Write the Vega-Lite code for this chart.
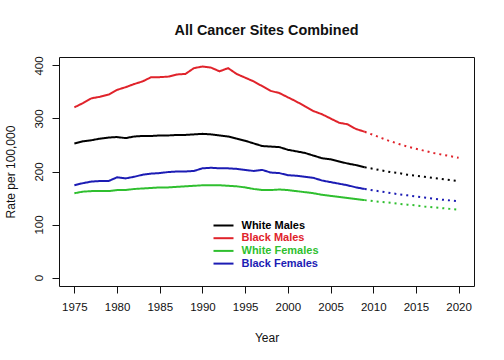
{
  "$schema": "https://vega.github.io/schema/vega-lite/v6.json",
  "width": 415,
  "height": 229,
  "autosize": {"type": "none"},
  "padding": {"left": 59, "top": 57, "right": 30, "bottom": 74},
  "background": "white",
  "config": {
    "font": "Liberation Sans",
    "view": {"stroke": "#111111", "strokeWidth": 1},
    "axis": {"grid": false, "domain": false, "tickColor": "#111111", "tickSize": 7, "labelColor": "#111111", "titleColor": "#111111", "labelFontSize": 11.5, "titleFontSize": 12, "titleFontWeight": "normal", "labelFont": "Liberation Sans", "titleFont": "Liberation Sans"}
  },
  "title": {"text": "All Cancer Sites Combined", "fontSize": 14.4, "fontWeight": "bold", "font": "Liberation Sans", "anchor": "middle", "baseline": "alphabetic", "offset": 6, "color": "#111111"},
  "data": {"values": [
    {"year":1975,"value":253,"group":"White Males","type":"obs"},
    {"year":1976,"value":257,"group":"White Males","type":"obs"},
    {"year":1977,"value":259,"group":"White Males","type":"obs"},
    {"year":1978,"value":262,"group":"White Males","type":"obs"},
    {"year":1979,"value":264,"group":"White Males","type":"obs"},
    {"year":1980,"value":265,"group":"White Males","type":"obs"},
    {"year":1981,"value":263,"group":"White Males","type":"obs"},
    {"year":1982,"value":266,"group":"White Males","type":"obs"},
    {"year":1983,"value":267,"group":"White Males","type":"obs"},
    {"year":1984,"value":267,"group":"White Males","type":"obs"},
    {"year":1985,"value":268,"group":"White Males","type":"obs"},
    {"year":1986,"value":268,"group":"White Males","type":"obs"},
    {"year":1987,"value":269,"group":"White Males","type":"obs"},
    {"year":1988,"value":269,"group":"White Males","type":"obs"},
    {"year":1989,"value":270,"group":"White Males","type":"obs"},
    {"year":1990,"value":271,"group":"White Males","type":"obs"},
    {"year":1991,"value":270,"group":"White Males","type":"obs"},
    {"year":1992,"value":268,"group":"White Males","type":"obs"},
    {"year":1993,"value":266,"group":"White Males","type":"obs"},
    {"year":1994,"value":262,"group":"White Males","type":"obs"},
    {"year":1995,"value":258,"group":"White Males","type":"obs"},
    {"year":1996,"value":253,"group":"White Males","type":"obs"},
    {"year":1997,"value":248,"group":"White Males","type":"obs"},
    {"year":1998,"value":247,"group":"White Males","type":"obs"},
    {"year":1999,"value":246,"group":"White Males","type":"obs"},
    {"year":2000,"value":241,"group":"White Males","type":"obs"},
    {"year":2001,"value":238,"group":"White Males","type":"obs"},
    {"year":2002,"value":235,"group":"White Males","type":"obs"},
    {"year":2003,"value":230,"group":"White Males","type":"obs"},
    {"year":2004,"value":225,"group":"White Males","type":"obs"},
    {"year":2005,"value":223,"group":"White Males","type":"obs"},
    {"year":2006,"value":219,"group":"White Males","type":"obs"},
    {"year":2007,"value":215,"group":"White Males","type":"obs"},
    {"year":2008,"value":212,"group":"White Males","type":"obs"},
    {"year":2009,"value":208,"group":"White Males","type":"obs"},
    {"year":2009,"value":208,"group":"White Males","type":"proj"},
    {"year":2010,"value":205,"group":"White Males","type":"proj"},
    {"year":2011,"value":202,"group":"White Males","type":"proj"},
    {"year":2012,"value":199,"group":"White Males","type":"proj"},
    {"year":2013,"value":197,"group":"White Males","type":"proj"},
    {"year":2014,"value":194,"group":"White Males","type":"proj"},
    {"year":2015,"value":192,"group":"White Males","type":"proj"},
    {"year":2016,"value":190,"group":"White Males","type":"proj"},
    {"year":2017,"value":188,"group":"White Males","type":"proj"},
    {"year":2018,"value":186,"group":"White Males","type":"proj"},
    {"year":2019,"value":184,"group":"White Males","type":"proj"},
    {"year":2020,"value":182,"group":"White Males","type":"proj"},
    {"year":1975,"value":321,"group":"Black Males","type":"obs"},
    {"year":1976,"value":329,"group":"Black Males","type":"obs"},
    {"year":1977,"value":338,"group":"Black Males","type":"obs"},
    {"year":1978,"value":341,"group":"Black Males","type":"obs"},
    {"year":1979,"value":345,"group":"Black Males","type":"obs"},
    {"year":1980,"value":354,"group":"Black Males","type":"obs"},
    {"year":1981,"value":359,"group":"Black Males","type":"obs"},
    {"year":1982,"value":365,"group":"Black Males","type":"obs"},
    {"year":1983,"value":370,"group":"Black Males","type":"obs"},
    {"year":1984,"value":378,"group":"Black Males","type":"obs"},
    {"year":1985,"value":378,"group":"Black Males","type":"obs"},
    {"year":1986,"value":379,"group":"Black Males","type":"obs"},
    {"year":1987,"value":383,"group":"Black Males","type":"obs"},
    {"year":1988,"value":384,"group":"Black Males","type":"obs"},
    {"year":1989,"value":395,"group":"Black Males","type":"obs"},
    {"year":1990,"value":398,"group":"Black Males","type":"obs"},
    {"year":1991,"value":396,"group":"Black Males","type":"obs"},
    {"year":1992,"value":389,"group":"Black Males","type":"obs"},
    {"year":1993,"value":395,"group":"Black Males","type":"obs"},
    {"year":1994,"value":384,"group":"Black Males","type":"obs"},
    {"year":1995,"value":377,"group":"Black Males","type":"obs"},
    {"year":1996,"value":370,"group":"Black Males","type":"obs"},
    {"year":1997,"value":361,"group":"Black Males","type":"obs"},
    {"year":1998,"value":352,"group":"Black Males","type":"obs"},
    {"year":1999,"value":348,"group":"Black Males","type":"obs"},
    {"year":2000,"value":340,"group":"Black Males","type":"obs"},
    {"year":2001,"value":332,"group":"Black Males","type":"obs"},
    {"year":2002,"value":323,"group":"Black Males","type":"obs"},
    {"year":2003,"value":314,"group":"Black Males","type":"obs"},
    {"year":2004,"value":308,"group":"Black Males","type":"obs"},
    {"year":2005,"value":300,"group":"Black Males","type":"obs"},
    {"year":2006,"value":292,"group":"Black Males","type":"obs"},
    {"year":2007,"value":289,"group":"Black Males","type":"obs"},
    {"year":2008,"value":280,"group":"Black Males","type":"obs"},
    {"year":2009,"value":275,"group":"Black Males","type":"obs"},
    {"year":2009,"value":275,"group":"Black Males","type":"proj"},
    {"year":2010,"value":269,"group":"Black Males","type":"proj"},
    {"year":2011,"value":263,"group":"Black Males","type":"proj"},
    {"year":2012,"value":257,"group":"Black Males","type":"proj"},
    {"year":2013,"value":252,"group":"Black Males","type":"proj"},
    {"year":2014,"value":247,"group":"Black Males","type":"proj"},
    {"year":2015,"value":243,"group":"Black Males","type":"proj"},
    {"year":2016,"value":239,"group":"Black Males","type":"proj"},
    {"year":2017,"value":235,"group":"Black Males","type":"proj"},
    {"year":2018,"value":232,"group":"Black Males","type":"proj"},
    {"year":2019,"value":229,"group":"Black Males","type":"proj"},
    {"year":2020,"value":226,"group":"Black Males","type":"proj"},
    {"year":1975,"value":159,"group":"White Females","type":"obs"},
    {"year":1976,"value":162,"group":"White Females","type":"obs"},
    {"year":1977,"value":163,"group":"White Females","type":"obs"},
    {"year":1978,"value":163,"group":"White Females","type":"obs"},
    {"year":1979,"value":163,"group":"White Females","type":"obs"},
    {"year":1980,"value":165,"group":"White Females","type":"obs"},
    {"year":1981,"value":165,"group":"White Females","type":"obs"},
    {"year":1982,"value":167,"group":"White Females","type":"obs"},
    {"year":1983,"value":168,"group":"White Females","type":"obs"},
    {"year":1984,"value":169,"group":"White Females","type":"obs"},
    {"year":1985,"value":170,"group":"White Females","type":"obs"},
    {"year":1986,"value":170,"group":"White Females","type":"obs"},
    {"year":1987,"value":171,"group":"White Females","type":"obs"},
    {"year":1988,"value":172,"group":"White Females","type":"obs"},
    {"year":1989,"value":173,"group":"White Females","type":"obs"},
    {"year":1990,"value":174,"group":"White Females","type":"obs"},
    {"year":1991,"value":174,"group":"White Females","type":"obs"},
    {"year":1992,"value":174,"group":"White Females","type":"obs"},
    {"year":1993,"value":173,"group":"White Females","type":"obs"},
    {"year":1994,"value":172,"group":"White Females","type":"obs"},
    {"year":1995,"value":170,"group":"White Females","type":"obs"},
    {"year":1996,"value":167,"group":"White Females","type":"obs"},
    {"year":1997,"value":165,"group":"White Females","type":"obs"},
    {"year":1998,"value":165,"group":"White Females","type":"obs"},
    {"year":1999,"value":166,"group":"White Females","type":"obs"},
    {"year":2000,"value":165,"group":"White Females","type":"obs"},
    {"year":2001,"value":163,"group":"White Females","type":"obs"},
    {"year":2002,"value":161,"group":"White Females","type":"obs"},
    {"year":2003,"value":159,"group":"White Females","type":"obs"},
    {"year":2004,"value":156,"group":"White Females","type":"obs"},
    {"year":2005,"value":154,"group":"White Females","type":"obs"},
    {"year":2006,"value":152,"group":"White Females","type":"obs"},
    {"year":2007,"value":150,"group":"White Females","type":"obs"},
    {"year":2008,"value":148,"group":"White Females","type":"obs"},
    {"year":2009,"value":146,"group":"White Females","type":"obs"},
    {"year":2009,"value":146,"group":"White Females","type":"proj"},
    {"year":2010,"value":144,"group":"White Females","type":"proj"},
    {"year":2011,"value":142.5,"group":"White Females","type":"proj"},
    {"year":2012,"value":141,"group":"White Females","type":"proj"},
    {"year":2013,"value":139,"group":"White Females","type":"proj"},
    {"year":2014,"value":137.5,"group":"White Females","type":"proj"},
    {"year":2015,"value":136,"group":"White Females","type":"proj"},
    {"year":2016,"value":134,"group":"White Females","type":"proj"},
    {"year":2017,"value":132.5,"group":"White Females","type":"proj"},
    {"year":2018,"value":131,"group":"White Females","type":"proj"},
    {"year":2019,"value":129.5,"group":"White Females","type":"proj"},
    {"year":2020,"value":128,"group":"White Females","type":"proj"},
    {"year":1975,"value":174,"group":"Black Females","type":"obs"},
    {"year":1976,"value":178,"group":"Black Females","type":"obs"},
    {"year":1977,"value":181,"group":"Black Females","type":"obs"},
    {"year":1978,"value":182,"group":"Black Females","type":"obs"},
    {"year":1979,"value":182,"group":"Black Females","type":"obs"},
    {"year":1980,"value":189,"group":"Black Females","type":"obs"},
    {"year":1981,"value":187,"group":"Black Females","type":"obs"},
    {"year":1982,"value":190,"group":"Black Females","type":"obs"},
    {"year":1983,"value":194,"group":"Black Females","type":"obs"},
    {"year":1984,"value":196,"group":"Black Females","type":"obs"},
    {"year":1985,"value":197,"group":"Black Females","type":"obs"},
    {"year":1986,"value":199,"group":"Black Females","type":"obs"},
    {"year":1987,"value":200,"group":"Black Females","type":"obs"},
    {"year":1988,"value":200,"group":"Black Females","type":"obs"},
    {"year":1989,"value":201,"group":"Black Females","type":"obs"},
    {"year":1990,"value":206,"group":"Black Females","type":"obs"},
    {"year":1991,"value":207,"group":"Black Females","type":"obs"},
    {"year":1992,"value":206,"group":"Black Females","type":"obs"},
    {"year":1993,"value":206,"group":"Black Females","type":"obs"},
    {"year":1994,"value":205,"group":"Black Females","type":"obs"},
    {"year":1995,"value":203,"group":"Black Females","type":"obs"},
    {"year":1996,"value":201,"group":"Black Females","type":"obs"},
    {"year":1997,"value":203,"group":"Black Females","type":"obs"},
    {"year":1998,"value":198,"group":"Black Females","type":"obs"},
    {"year":1999,"value":197,"group":"Black Females","type":"obs"},
    {"year":2000,"value":193,"group":"Black Females","type":"obs"},
    {"year":2001,"value":192,"group":"Black Females","type":"obs"},
    {"year":2002,"value":190,"group":"Black Females","type":"obs"},
    {"year":2003,"value":188,"group":"Black Females","type":"obs"},
    {"year":2004,"value":183,"group":"Black Females","type":"obs"},
    {"year":2005,"value":180,"group":"Black Females","type":"obs"},
    {"year":2006,"value":177,"group":"Black Females","type":"obs"},
    {"year":2007,"value":174,"group":"Black Females","type":"obs"},
    {"year":2008,"value":170,"group":"Black Females","type":"obs"},
    {"year":2009,"value":167,"group":"Black Females","type":"obs"},
    {"year":2009,"value":167,"group":"Black Females","type":"proj"},
    {"year":2010,"value":164.5,"group":"Black Females","type":"proj"},
    {"year":2011,"value":162,"group":"Black Females","type":"proj"},
    {"year":2012,"value":159.5,"group":"Black Females","type":"proj"},
    {"year":2013,"value":157,"group":"Black Females","type":"proj"},
    {"year":2014,"value":155,"group":"Black Females","type":"proj"},
    {"year":2015,"value":153,"group":"Black Females","type":"proj"},
    {"year":2016,"value":151,"group":"Black Females","type":"proj"},
    {"year":2017,"value":149,"group":"Black Females","type":"proj"},
    {"year":2018,"value":147,"group":"Black Females","type":"proj"},
    {"year":2019,"value":145.5,"group":"Black Females","type":"proj"},
    {"year":2020,"value":144,"group":"Black Females","type":"proj"}
  ]},
  "mark": {"type": "line", "strokeWidth": 2, "interpolate": "linear"},
  "encoding": {
    "x": {"field": "year", "type": "quantitative",
      "scale": {"domain": [1973.2, 2021.8], "nice": false, "zero": false},
      "axis": {"title": "Year", "values": [1975,1980,1985,1990,1995,2000,2005,2010,2015,2020], "format": "d", "labelPadding": 8, "titlePadding": 20, "labelFlush": false}},
    "y": {"field": "value", "type": "quantitative",
      "scale": {"domain": [-16, 416], "nice": false, "zero": false},
      "axis": {"title": "Rate per 100,000", "values": [0,100,200,300,400], "labelAngle": -90, "labelAlign": "center", "labelBaseline": "bottom", "labelPadding": 8, "titlePadding": 16, "labelFlush": false}},
    "color": {"field": "group", "type": "nominal",
      "scale": {"domain": ["White Males","Black Males","White Females","Black Females"], "range": ["#000000","#e0232b","#2fbf2f","#1c1cb4"]},
      "legend": {"title": null, "orient": "none", "legendX": 159, "legendY": 163, "padding": 0,
        "symbolType": "M -2.5 0 H 2.5", "symbolSize": 64, "symbolStrokeWidth": 2,
        "labelFontSize": 11, "labelFontWeight": "bold", "labelFont": "Liberation Sans", "labelOffset": 12.5, "rowPadding": 0.7,
        "encode": {"labels": {"update": {"fill": {"scale": "color", "field": "value"}}}}}},
    "strokeDash": {"field": "type", "type": "nominal",
      "scale": {"domain": ["obs","proj"], "range": [[1,0],[2,4]]}, "legend": null},
    "detail": {"field": "type"}
  }
}
